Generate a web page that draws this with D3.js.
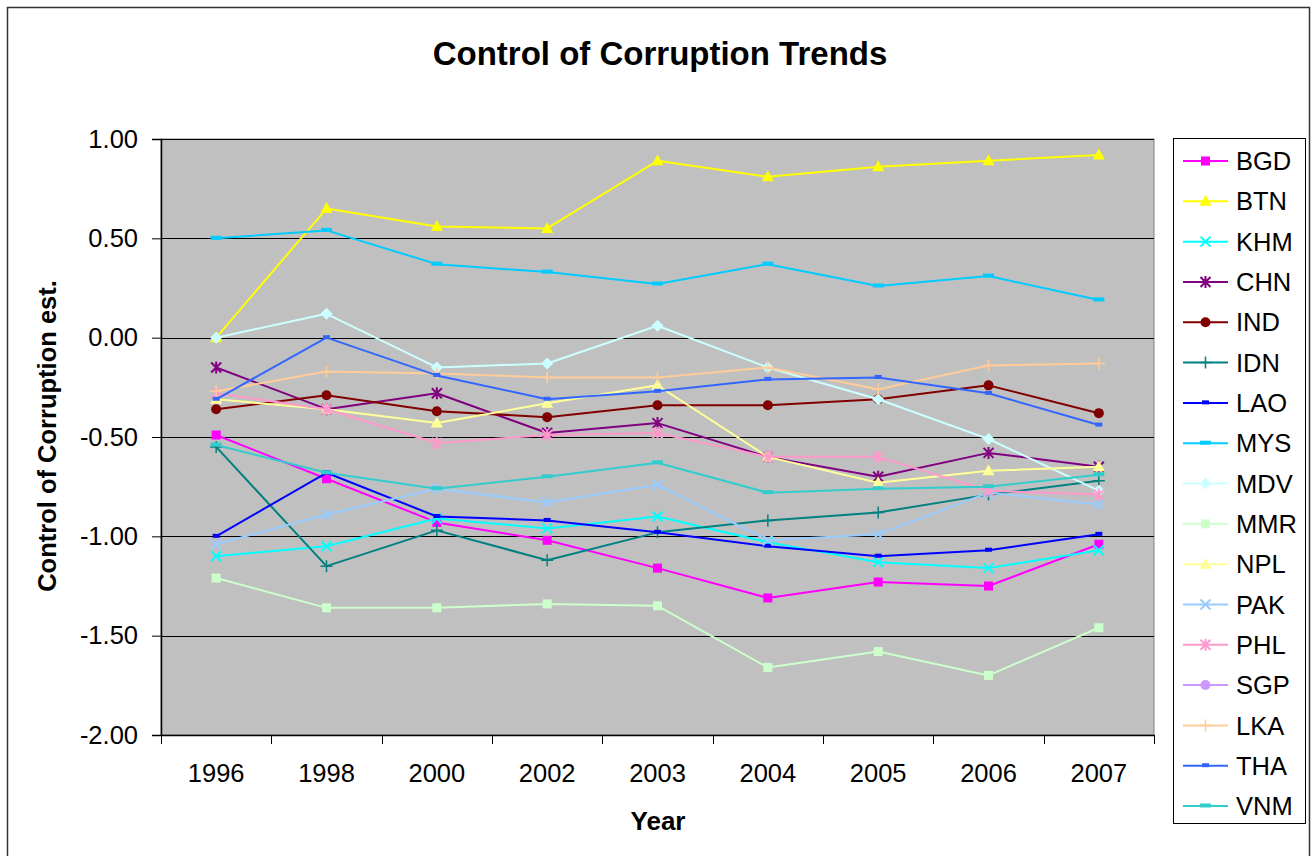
<!DOCTYPE html>
<html>
<head>
<meta charset="utf-8">
<script src="https://cdn.jsdelivr.net/npm/d3@7"></script>
<style>
  html, body { margin: 0; padding: 0; background: #fff; }
  svg { display: block; font-family: "Liberation Sans", Arial, Helvetica, sans-serif; }
</style>
</head>
<body>
<svg id="chart" width="1312" height="856"></svg>
<script>
// ---- data ----
const years = ["1996", "1998", "2000", "2002", "2003", "2004", "2005", "2006", "2007"];
const yTicks = [-2.0, -1.5, -1.0, -0.5, 0.0, 0.5, 1.0];
const countries = ["BGD", "BTN", "KHM", "CHN", "IND", "IDN", "LAO", "MYS", "MDV", "MMR", "NPL", "PAK", "PHL", "SGP", "LKA", "THA", "VNM"];
const BGD = [-0.49, -0.71, -0.93, -1.02, -1.16, -1.31, -1.23, -1.25, -1.04];
const BTN = [0.00, 0.65, 0.56, 0.55, 0.89, 0.81, 0.86, 0.89, 0.92];
const KHM = [-1.10, -1.05, -0.91, -0.96, -0.90, -1.03, -1.13, -1.16, -1.07];
const CHN = [-0.15, -0.36, -0.28, -0.48, -0.43, -0.60, -0.70, -0.58, -0.65];
const IND = [-0.36, -0.29, -0.37, -0.40, -0.34, -0.34, -0.31, -0.24, -0.38];
const IDN = [-0.55, -1.15, -0.97, -1.12, -0.98, -0.92, -0.88, -0.79, -0.72];
const LAO = [-1.00, -0.68, -0.90, -0.92, -0.98, -1.05, -1.10, -1.07, -0.99];
const MYS = [0.50, 0.54, 0.37, 0.33, 0.27, 0.37, 0.26, 0.31, 0.19];
const MDV = [0.00, 0.12, -0.15, -0.13, 0.06, -0.15, -0.31, -0.51, -0.77];
const MMR = [-1.21, -1.36, -1.36, -1.34, -1.35, -1.66, -1.58, -1.70, -1.46];
const NPL = [-0.31, -0.36, -0.43, -0.33, -0.24, -0.60, -0.73, -0.67, -0.65];
const PAK = [-1.04, -0.89, -0.76, -0.83, -0.74, -1.02, -0.99, -0.78, -0.84];
const PHL = [-0.28, -0.36, -0.53, -0.49, -0.48, -0.60, -0.60, -0.77, -0.79];
const SGP = [null, null, null, null, null, null, null, null, null]; // above the axis range, not visible
const LKA = [-0.27, -0.17, -0.18, -0.20, -0.20, -0.15, -0.26, -0.14, -0.13];
const THA = [-0.31, 0.00, -0.19, -0.31, -0.27, -0.21, -0.20, -0.28, -0.44];
const VNM = [-0.54, -0.68, -0.76, -0.70, -0.63, -0.78, -0.76, -0.75, -0.69];

const seriesValues = { BGD, BTN, KHM, CHN, IND, IDN, LAO, MYS, MDV, MMR, NPL, PAK, PHL, SGP, LKA, THA, VNM };

// ---- styles ----
const colors = {
  BGD: "#FF00FF", BTN: "#FFFF00", KHM: "#00FFFF", CHN: "#800080", IND: "#800000",
  IDN: "#008080", LAO: "#0000FF", MYS: "#00CCFF", MDV: "#CCFFFF", MMR: "#CCFFCC",
  NPL: "#FFFF99", PAK: "#99CCFF", PHL: "#FF99CC", SGP: "#CC99FF", LKA: "#FFCC99",
  THA: "#3366FF", VNM: "#33CCCC"
};
const markers = {
  BGD: "square", BTN: "triangle", KHM: "x", CHN: "star", IND: "circle",
  IDN: "plus", LAO: "dash", MYS: "longdash", MDV: "diamond", MMR: "square",
  NPL: "triangle", PAK: "x", PHL: "star", SGP: "circle", LKA: "plus",
  THA: "dash", VNM: "longdash"
};

const svg = d3.select("#chart");
const plot = { left: 161, right: 1154, top: 139, bottom: 735 };

// outer chart border
svg.append("rect").attr("x", 7.5).attr("y", 7.5).attr("width", 1302).attr("height", 860)
  .attr("fill", "#fff").attr("stroke", "#333").attr("stroke-width", 1.5);

const x = d3.scaleBand().domain(years).range([plot.left, plot.right]).padding(0);
const y = d3.scaleLinear().domain([-2, 1]).range([plot.bottom, plot.top]);
const cx = d => x(d) + x.bandwidth() / 2;

// plot area
svg.append("rect").attr("x", plot.left).attr("y", plot.top)
  .attr("width", plot.right - plot.left).attr("height", plot.bottom - plot.top)
  .attr("fill", "#C0C0C0").attr("stroke", "#808080").attr("stroke-width", 1);

// gridlines
svg.append("g").selectAll("line").data(yTicks.filter(t => t > -2)).join("line")
  .attr("x1", plot.left).attr("x2", plot.right)
  .attr("y1", d => Math.round(y(d)) + 0.5).attr("y2", d => Math.round(y(d)) + 0.5)
  .attr("stroke", "#000").attr("stroke-width", 1);

// y axis
const yAxis = d3.axisLeft(y).tickValues(yTicks).tickFormat(d => d.toFixed(2)).tickSize(9).tickPadding(14);
const gy = svg.append("g").attr("transform", `translate(${plot.left},0)`).call(yAxis);
gy.select(".domain").attr("stroke", "#000").attr("stroke-width", 1.5);
gy.selectAll(".tick line").attr("stroke", "#000");
gy.selectAll(".tick text").attr("font-size", 25.5).attr("fill", "#000")
  .attr("font-family", "'Liberation Sans', Arial, sans-serif");

// x axis
const xAxis = d3.axisBottom(x).tickSize(0).tickPadding(29);
const gx = svg.append("g").attr("transform", `translate(0,${plot.bottom})`).call(xAxis);
gx.select(".domain").attr("stroke", "#000").attr("stroke-width", 1.5);
gx.selectAll(".tick text").attr("font-size", 25.5).attr("fill", "#000")
  .attr("font-family", "'Liberation Sans', Arial, sans-serif");
// category boundary ticks
const boundaries = years.map(d => x(d)).concat([x(years[years.length - 1]) + x.bandwidth()]);
svg.append("g").selectAll("line").data(boundaries).join("line")
  .attr("x1", d => Math.round(d) + 0.5).attr("x2", d => Math.round(d) + 0.5)
  .attr("y1", plot.bottom).attr("y2", plot.bottom + 9)
  .attr("stroke", "#000").attr("stroke-width", 1);

// clip
svg.append("clipPath").attr("id", "plotclip").append("rect")
  .attr("x", plot.left).attr("y", plot.top)
  .attr("width", plot.right - plot.left).attr("height", plot.bottom - plot.top);

function drawMarker(g, type, color, px, py) {
  switch (type) {
    case "square":
      g.append("rect").attr("x", px - 4.5).attr("y", py - 4.5).attr("width", 9).attr("height", 9).attr("fill", color);
      break;
    case "triangle":
      g.append("path").attr("d", `M${px},${py - 6.5}L${px + 6},${py + 4.5}L${px - 6},${py + 4.5}Z`).attr("fill", color);
      break;
    case "circle":
      g.append("circle").attr("cx", px).attr("cy", py).attr("r", 5).attr("fill", color);
      break;
    case "diamond":
      g.append("path").attr("d", `M${px},${py - 6}L${px + 6},${py}L${px},${py + 6}L${px - 6},${py}Z`).attr("fill", color);
      break;
    case "x":
      g.append("path").attr("d", `M${px - 5},${py - 5}L${px + 5},${py + 5}M${px + 5},${py - 5}L${px - 5},${py + 5}`)
        .attr("stroke", color).attr("stroke-width", 2).attr("fill", "none");
      break;
    case "star":
      g.append("path").attr("d", `M${px - 5},${py - 5}L${px + 5},${py + 5}M${px + 5},${py - 5}L${px - 5},${py + 5}M${px},${py - 6}L${px},${py + 6}`)
        .attr("stroke", color).attr("stroke-width", 2).attr("fill", "none");
      break;
    case "plus":
      g.append("path").attr("d", `M${px - 6},${py}L${px + 6},${py}M${px},${py - 6}L${px},${py + 6}`)
        .attr("stroke", color).attr("stroke-width", 1.5).attr("fill", "none");
      break;
    case "dash":
      g.append("rect").attr("x", px - 3.5).attr("y", py - 2.5).attr("width", 7).attr("height", 4).attr("fill", color);
      break;
    case "longdash":
      g.append("rect").attr("x", px - 5.5).attr("y", py - 2.5).attr("width", 11).attr("height", 4).attr("fill", color);
      break;
  }
}

// series
const seriesG = svg.append("g").attr("clip-path", "url(#plotclip)");
const line = d3.line().defined(d => d.v !== null).x(d => cx(d.year)).y(d => y(d.v));
countries.forEach(c => {
  const pts = years.map((yr, i) => ({ year: yr, v: seriesValues[c][i] }));
  const g = seriesG.append("g").attr("class", "series-" + c);
  g.append("path").datum(pts).attr("d", line)
    .attr("fill", "none").attr("stroke", colors[c]).attr("stroke-width", 2).attr("stroke-linejoin", "round");
  pts.filter(p => p.v !== null).forEach(p => drawMarker(g, markers[c], colors[c], cx(p.year), y(p.v)));
});

// title
svg.append("text").attr("x", 660).attr("y", 65).attr("text-anchor", "middle")
  .attr("font-size", 33).attr("font-weight", "bold").attr("fill", "#000")
  .text("Control of Corruption Trends");

// axis titles
svg.append("text").attr("x", 658).attr("y", 830).attr("text-anchor", "middle")
  .attr("font-size", 26).attr("font-weight", "bold").attr("fill", "#000").text("Year");
svg.append("text").attr("transform", "translate(56,436) rotate(-90)").attr("text-anchor", "middle")
  .attr("font-size", 25.5).attr("font-weight", "bold").attr("fill", "#000").text("Control of Corruption est.");

// legend
const lg = svg.append("g");
lg.append("rect").attr("x", 1173.5).attr("y", 138.5).attr("width", 132).attr("height", 685)
  .attr("fill", "#fff").attr("stroke", "#000").attr("stroke-width", 1);
const legendY = d3.scalePoint().domain(countries).range([161, 806]);
countries.forEach(c => {
  const ly = legendY(c);
  lg.append("line").attr("x1", 1183).attr("x2", 1228).attr("y1", ly).attr("y2", ly)
    .attr("stroke", colors[c]).attr("stroke-width", 2);
  drawMarker(lg, markers[c], colors[c], 1205.5, ly);
  lg.append("text").attr("x", 1236).attr("y", ly).attr("dy", "0.36em")
    .attr("font-size", 25.5).attr("fill", "#000").text(c);
});
</script>
</body>
</html>
